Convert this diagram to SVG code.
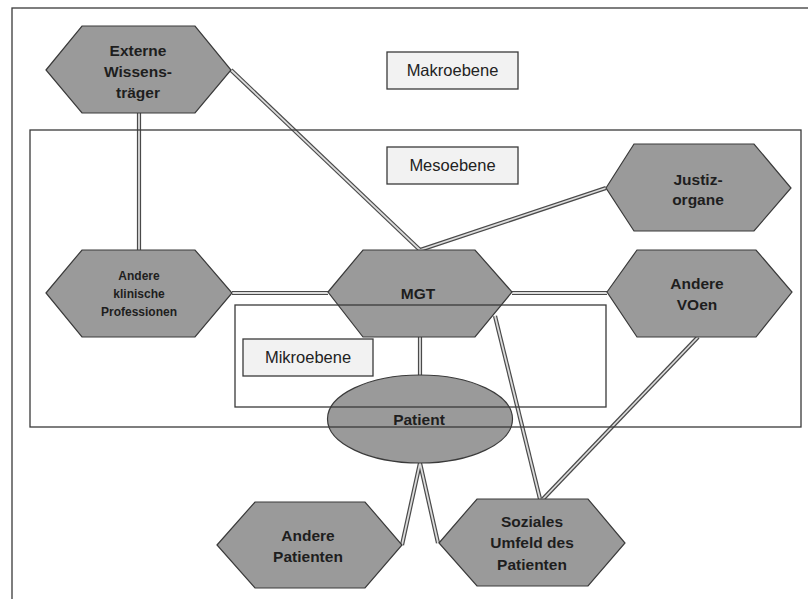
<svg xmlns="http://www.w3.org/2000/svg" width="808" height="599" viewBox="0 0 808 599">
<style>
.frame{fill:none;stroke:#3a3a3a;stroke-width:1.3}
.hex{fill:#9a9a9a;stroke:#3a3a3a;stroke-width:1.2}
.lbl{fill:#f2f2f2;stroke:#3a3a3a;stroke-width:1.3}
.ltxt{font-family:"Liberation Sans",Arial,sans-serif;font-size:16.5px;fill:#222;text-anchor:middle}
.ntxt{font-family:"Liberation Sans",Arial,sans-serif;font-size:15.5px;font-weight:bold;fill:#1e1e1e;text-anchor:middle}
.stxt{font-family:"Liberation Sans",Arial,sans-serif;font-size:12px;font-weight:bold;fill:#1e1e1e;text-anchor:middle}
.co{stroke:#4a4a4a;stroke-width:4.2;fill:none}
.ci{stroke:#dcdcdc;stroke-width:1.8;fill:none}
</style>
<rect width="808" height="599" fill="#ffffff"/>
<g id="makro-frame">
<rect x="12" y="8" width="810" height="610" class="frame" stroke-width="1.6"/>
</g>
<g id="connectors">
<g class="co">
<line x1="139" y1="113" x2="139" y2="250"/>
<line x1="231" y1="70" x2="420" y2="250"/>
<line x1="420" y1="250" x2="606" y2="188"/>
<line x1="232" y1="293" x2="328" y2="293"/>
<line x1="512" y1="293" x2="607" y2="293"/>
<line x1="420" y1="337" x2="420" y2="375"/>
<line x1="495" y1="316" x2="540" y2="499"/>
<line x1="698" y1="337" x2="543" y2="499"/>
<line x1="420" y1="463" x2="402" y2="545"/>
<line x1="420" y1="463" x2="438" y2="543"/>
</g>
<g class="ci">
<line x1="139" y1="113" x2="139" y2="250"/>
<line x1="231" y1="70" x2="420" y2="250"/>
<line x1="420" y1="250" x2="606" y2="188"/>
<line x1="232" y1="293" x2="328" y2="293"/>
<line x1="512" y1="293" x2="607" y2="293"/>
<line x1="420" y1="337" x2="420" y2="375"/>
<line x1="495" y1="316" x2="540" y2="499"/>
<line x1="698" y1="337" x2="543" y2="499"/>
<line x1="420" y1="463" x2="402" y2="545"/>
<line x1="420" y1="463" x2="438" y2="543"/>
</g>
</g>
<g id="externe">
<polygon class="hex" points="46,70 82,26 195,26 231,70 195,113 82,113"/>
<text class="ntxt" x="138" y="56">Externe</text>
<text class="ntxt" x="138" y="77">Wissens-</text>
<text class="ntxt" x="138" y="98">träger</text>
</g>
<g id="justiz">
<polygon class="hex" points="606,188 634,144 754,144 791,188 754,231 634,231"/>
<text class="ntxt" x="698" y="185">Justiz-</text>
<text class="ntxt" x="698" y="205">organe</text>
</g>
<g id="andere-klinische">
<polygon class="hex" points="46,293 82,250 195,250 232,293 195,337 82,337"/>
<text class="stxt" x="139" y="280">Andere</text>
<text class="stxt" x="139" y="298">klinische</text>
<text class="stxt" x="139" y="316">Professionen</text>
</g>
<g id="mgt">
<polygon class="hex" points="328,292 363,250 475,250 512,292 475,337 363,337"/>
<text class="ntxt" x="418" y="299">MGT</text>
</g>
<g id="andere-voen">
<polygon class="hex" points="607,292 637,250 756,250 792,292 756,337 637,337"/>
<text class="ntxt" x="697" y="289">Andere</text>
<text class="ntxt" x="697" y="310">VOen</text>
</g>
<g id="patient">
<ellipse cx="420" cy="419" rx="92.5" ry="44" class="hex"/>
<text class="ntxt" x="419" y="425">Patient</text>
</g>
<g id="andere-patienten">
<polygon class="hex" points="217,545 255,502 365,502 402,545 365,588 255,588"/>
<text class="ntxt" x="308" y="541">Andere</text>
<text class="ntxt" x="308" y="562">Patienten</text>
</g>
<g id="soziales-umfeld">
<polygon class="hex" points="439,543 477,499 588,499 625,543 588,586 477,586"/>
<text class="ntxt" x="532" y="527">Soziales</text>
<text class="ntxt" x="532" y="548">Umfeld des</text>
<text class="ntxt" x="532" y="570">Patienten</text>
</g>
<g id="meso-frame">
<rect x="30" y="130" width="771" height="297" class="frame"/>
</g>
<g id="mikro-frame">
<rect x="235" y="305" width="371" height="102" class="frame"/>
</g>
<g id="makroebene">
<rect x="387" y="52" width="131" height="37" class="lbl"/>
<text class="ltxt" x="452.5" y="76">Makroebene</text>
</g>
<g id="mesoebene">
<rect x="387" y="147" width="131" height="37" class="lbl"/>
<text class="ltxt" x="452.5" y="171">Mesoebene</text>
</g>
<g id="mikroebene">
<rect x="243" y="339" width="130" height="37" class="lbl"/>
<text class="ltxt" x="308" y="363">Mikroebene</text>
</g>
</svg>
